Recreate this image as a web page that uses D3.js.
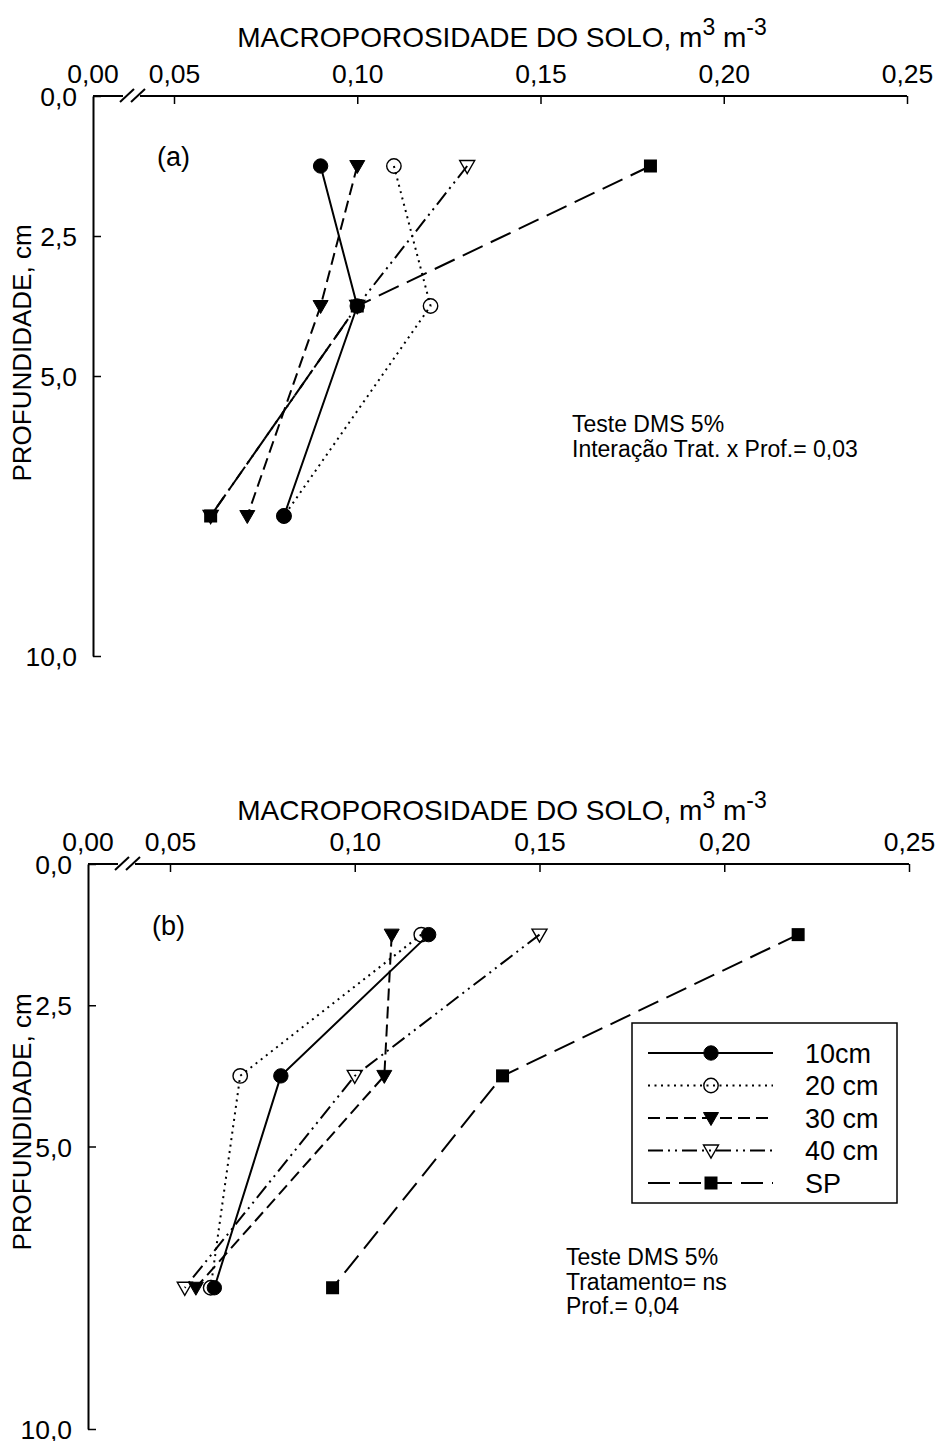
<!DOCTYPE html>
<html>
<head>
<meta charset="utf-8">
<script src="https://cdn.jsdelivr.net/npm/d3@7"></script>
<style>
  body { margin: 0; background: #fff; }
  svg { display: block; }
  text { font-family: "Liberation Sans", Arial, sans-serif; fill: #000; }
</style>
</head>
<body>
<svg id="chart" width="942" height="1441"></svg>
<script>
// Depths (cm) at which macroporosity was sampled
const depths = [1.25, 3.75, 7.5];

// Panel (a): macroporosity (m3 m-3) per treatment at each depth
const a10cm = [0.090, 0.100, 0.080];
const a20cm = [0.110, 0.120, 0.080];
const a30cm = [0.100, 0.090, 0.070];
const a40cm = [0.130, 0.100, 0.060];
const aSP   = [0.180, 0.100, 0.060];

// Panel (b)
const b10cm = [0.120, 0.080, 0.062];
const b20cm = [0.118, 0.069, 0.061];
const b30cm = [0.110, 0.108, 0.057];
const b40cm = [0.150, 0.100, 0.054];
const bSP   = [0.220, 0.140, 0.094];

const seriesNames = ["10cm", "20 cm", "30 cm", "40 cm", "SP"];
const xTicks = [0.05, 0.10, 0.15, 0.20, 0.25];
const yTicks = [0, 2.5, 5, 10];

const statsA = ["Teste DMS 5%", "Interação Trat. x Prof.= 0,03"];
const statsB = ["Teste DMS 5%", "Tratamento= ns", "Prof.= 0,04"];

// Line and marker styling per series
const styles = [
  { dash: null,                 marker: "circle",   fill: "#000" },
  { dash: "2,4.5",              marker: "circle",   fill: "none" },
  { dash: "12,6",               marker: "triangle", fill: "#000" },
  { dash: "15,5,2,5,2,5",       marker: "triangle", fill: "none" },
  { dash: "22,9",               marker: "square",   fill: "#000" }
];

const fmt = v => d3.format(".2f")(v).replace(".", ",");
const fmtY = v => d3.format(".1f")(v).replace(".", ",");

const TICK_FONT = 26.5;

const svg = d3.select("#chart");

function drawMarker(g, type, fill, cx, cy) {
  if (type === "circle") {
    g.append("circle").attr("cx", cx).attr("cy", cy).attr("r", 7.2)
      .attr("fill", fill).attr("stroke", "#000").attr("stroke-width", fill === "none" ? 1.4 : 1);
  } else if (type === "triangle") {
    const s = 7.5;
    g.append("path")
      .attr("d", `M${cx - s},${cy - 5.5}L${cx + s},${cy - 5.5}L${cx},${cy + 7.5}Z`)
      .attr("fill", fill).attr("stroke", "#000").attr("stroke-width", fill === "none" ? 1.4 : 1)
      .attr("stroke-linejoin", "miter");
  } else {
    g.append("rect").attr("x", cx - 6.5).attr("y", cy - 6.5).attr("width", 13).attr("height", 13)
      .attr("fill", fill);
  }
}

function drawPanel(cfg) {
  const g = svg.append("g");
  const x = d3.scaleLinear().domain([0.05, 0.25]).range([cfg.x05, cfg.x25]);
  const y = d3.scaleLinear().domain([0, 10]).range([cfg.y0, cfg.y10]);

  // top x axis (ticks point into the plot)
  const xa = g.append("g").attr("transform", `translate(0,${cfg.y0})`)
    .call(d3.axisTop(x).tickValues(xTicks).tickFormat(fmt).tickSizeInner(-8).tickSizeOuter(0).tickPadding(13));
  xa.select(".domain").remove();
  xa.selectAll(".tick line").attr("stroke-width", 1.5);
  xa.selectAll("text").attr("font-size", TICK_FONT).attr("font-family", null);

  // "0,00" at the origin, before the scale break
  g.append("text").attr("x", cfg.x0).attr("y", cfg.y0 - 13).attr("text-anchor", "middle")
    .attr("font-size", TICK_FONT).text(fmt(0));

  // axis line with break
  g.append("path").attr("d", `M${cfg.x0},${cfg.y0}H${cfg.x0 + 30}M${cfg.x0 + 47},${cfg.y0}H${cfg.x25}`)
    .attr("stroke", "#000").attr("stroke-width", 2).attr("fill", "none");
  [0, 11].forEach(o => {
    g.append("line")
      .attr("x1", cfg.x0 + 27 + o).attr("y1", cfg.y0 + 6)
      .attr("x2", cfg.x0 + 41 + o).attr("y2", cfg.y0 - 7)
      .attr("stroke", "#000").attr("stroke-width", 2);
  });

  // left y axis
  const ya = g.append("g").attr("transform", `translate(${cfg.x0},0)`)
    .call(d3.axisLeft(y).tickValues(yTicks).tickFormat(fmtY).tickSizeInner(-8).tickSizeOuter(0).tickPadding(16));
  ya.select(".domain").attr("stroke-width", 2);
  ya.selectAll(".tick line").attr("stroke-width", 1.5);
  ya.selectAll("text").attr("font-size", TICK_FONT).attr("font-family", null).attr("dy", "0.36em");

  // axis titles
  const t = g.append("text").attr("x", 502).attr("y", cfg.titleY).attr("text-anchor", "middle")
    .attr("font-size", 28);
  t.append("tspan").text("MACROPOROSIDADE DO SOLO, m");
  t.append("tspan").attr("font-size", 23).attr("dy", -12).text("3");
  t.append("tspan").attr("dy", 12).text(" m");
  t.append("tspan").attr("font-size", 23).attr("dy", -12).text("-3");

  g.append("text").attr("transform", `translate(31,${cfg.yLabelY}) rotate(-90)`)
    .attr("text-anchor", "middle").attr("font-size", 26).text("PROFUNDIDADE, cm");

  // panel tag
  g.append("text").attr("x", cfg.x0 + 64).attr("y", y(1.25)).attr("font-size", 27).text(cfg.tag);

  // series lines, then markers
  cfg.series.forEach((vals, i) => {
    const pts = vals.map((v, k) => [x(v), y(depths[k])]);
    g.append("path").attr("d", d3.line()(pts)).attr("fill", "none").attr("stroke", "#000")
      .attr("stroke-width", 2).attr("stroke-dasharray", styles[i].dash);
  });
  cfg.series.forEach((vals, i) => {
    vals.forEach((v, k) => drawMarker(g, styles[i].marker, styles[i].fill, x(v), y(depths[k])));
  });

  // statistics note
  cfg.stats.forEach((s, i) => {
    g.append("text").attr("x", cfg.statsX).attr("y", cfg.statsY + i * 24.5)
      .attr("font-size", 23).text(s);
  });
  return { x, y, g };
}

drawPanel({
  x0: 93, y0: 96, x05: 174, x25: 907, y10: 656, titleY: 47, yLabelY: 353, tag: "(a)",
  series: [a10cm, a20cm, a30cm, a40cm, aSP],
  stats: statsA, statsX: 572, statsY: 432
});

drawPanel({
  x0: 88, y0: 864, x05: 170, x25: 909, y10: 1429, titleY: 820, yLabelY: 1122, tag: "(b)",
  series: [b10cm, b20cm, b30cm, b40cm, bSP],
  stats: statsB, statsX: 566, statsY: 1265
});

// legend for panel (b)
const leg = svg.append("g");
leg.append("rect").attr("x", 632).attr("y", 1023).attr("width", 265).attr("height", 180)
  .attr("fill", "#fff").attr("stroke", "#000").attr("stroke-width", 1.5);
seriesNames.forEach((name, i) => {
  const cy = 1053 + i * 32.5;
  leg.append("line").attr("x1", 648).attr("x2", 773).attr("y1", cy).attr("y2", cy)
    .attr("stroke", "#000").attr("stroke-width", 2).attr("stroke-dasharray", styles[i].dash);
  drawMarker(leg, styles[i].marker, styles[i].fill, 711, cy);
  leg.append("text").attr("x", 805).attr("y", cy).attr("dy", "0.36em").attr("font-size", 27).text(name);
});
</script>
</body>
</html>
